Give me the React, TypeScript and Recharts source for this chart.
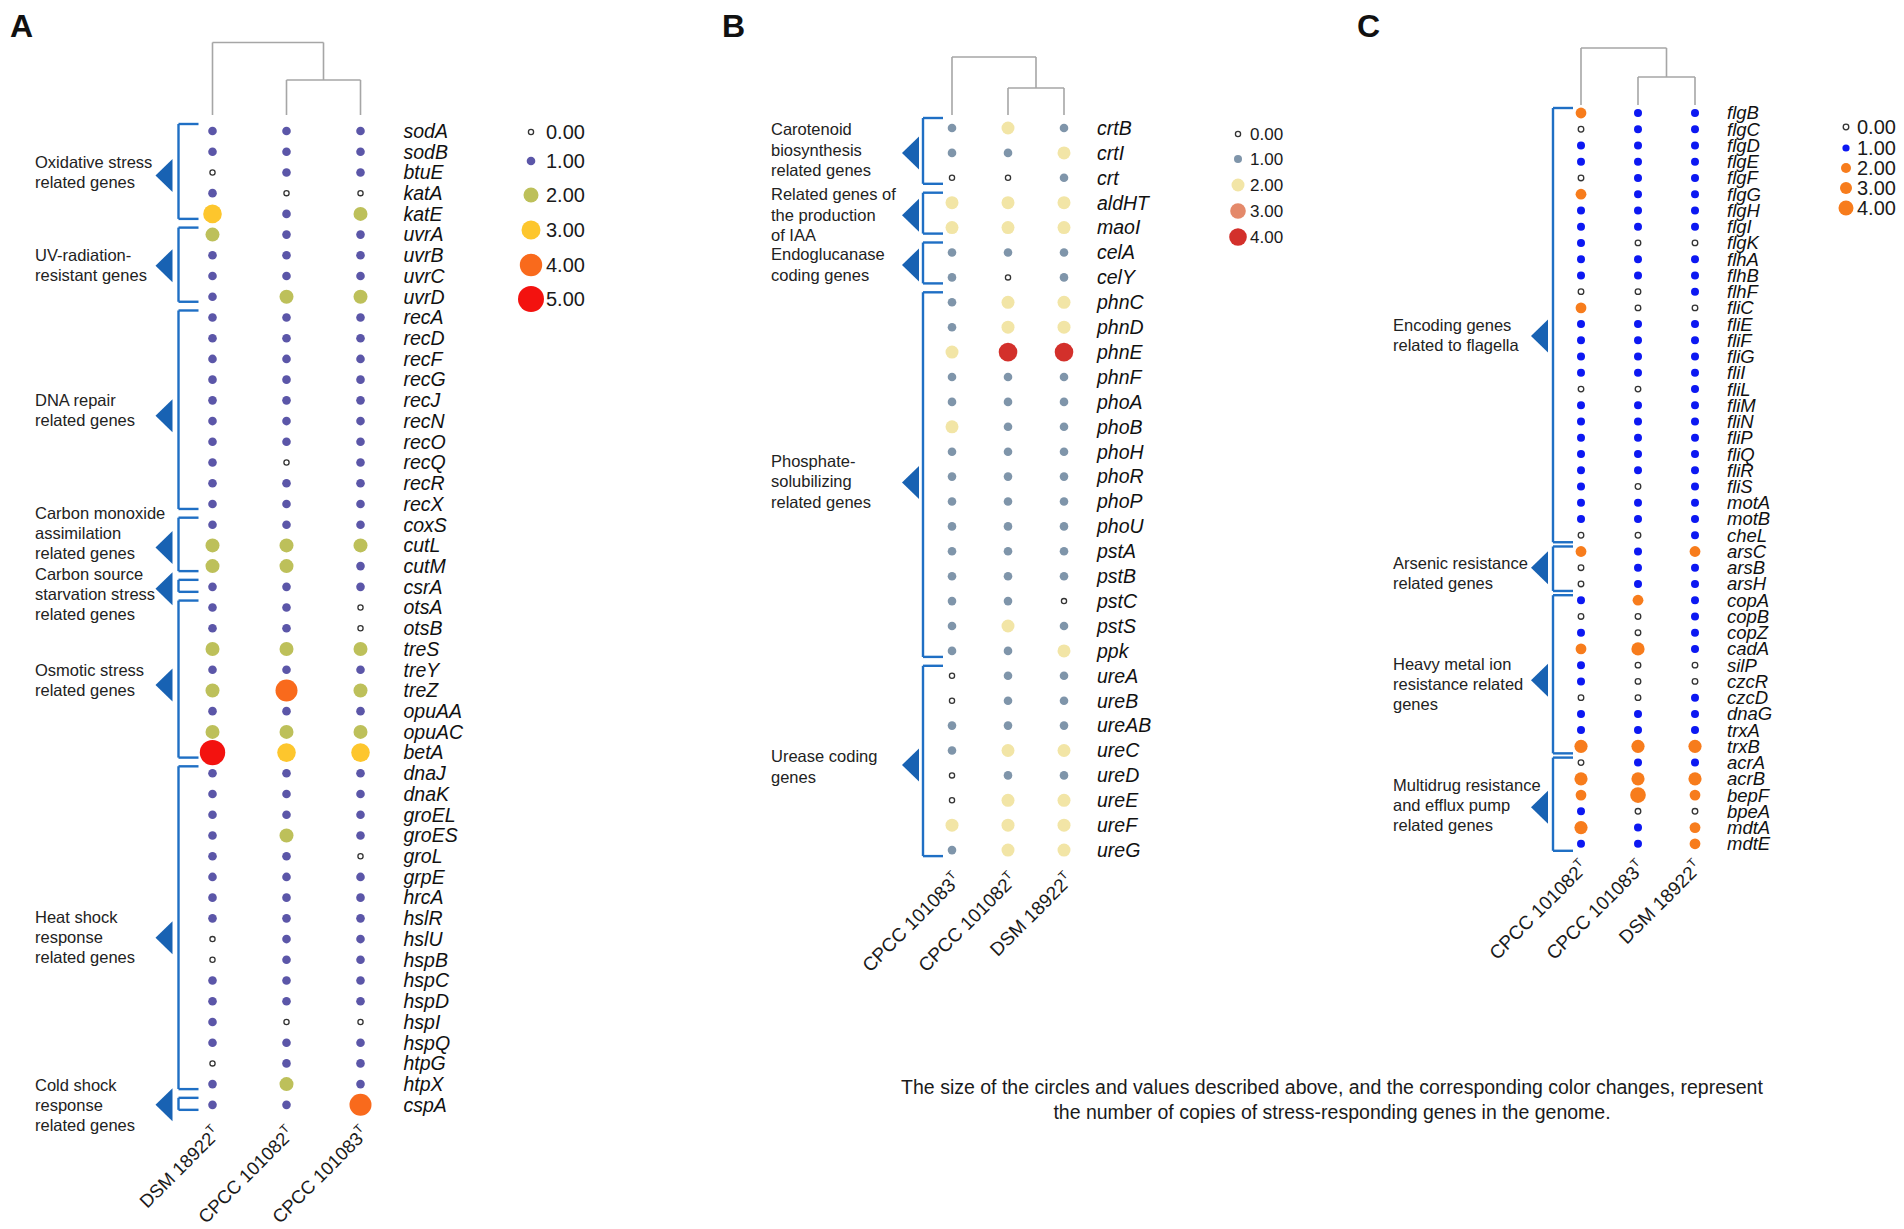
import React from 'react';
import { ScatterChart, Scatter, XAxis, YAxis, ReferenceLine, ReferenceDot, Legend } from 'recharts';

if (typeof document !== 'undefined') {
  document.body.style.margin = '0';
}

const FONT = '"Liberation Sans", Arial, Helvetica, sans-serif';
const FIG_W = 1904;
const FIG_H = 1229;

// ---------- panel A ----------
const genesA = [
  'sodA', 'sodB', 'btuE', 'katA', 'katE', 'uvrA', 'uvrB', 'uvrC', 'uvrD', 'recA', 'recD', 'recF',
  'recG', 'recJ', 'recN', 'recO', 'recQ', 'recR', 'recX', 'coxS', 'cutL', 'cutM', 'csrA', 'otsA',
  'otsB', 'treS', 'treY', 'treZ', 'opuAA', 'opuAC', 'betA', 'dnaJ', 'dnaK', 'groEL', 'groES', 'groL',
  'grpE', 'hrcA', 'hslR', 'hslU', 'hspB', 'hspC', 'hspD', 'hspI', 'hspQ', 'htpG', 'htpX', 'cspA',
];
const strainsA = ['DSM 18922', 'CPCC 101082', 'CPCC 101083'];
const dsmA = [1, 1, 0, 1, 3, 2, 1, 1, 1, 1, 1, 1, 1, 1, 1, 1, 1, 1, 1, 1, 2, 2, 1, 1, 1, 2, 1, 2, 1, 2, 5, 1, 1, 1, 1, 1, 1, 1, 1, 0, 0, 1, 1, 1, 1, 0, 1, 1];
const cpcc82A = [1, 1, 1, 0, 1, 1, 1, 1, 2, 1, 1, 1, 1, 1, 1, 1, 0, 1, 1, 1, 2, 2, 1, 1, 1, 2, 1, 4, 1, 2, 3, 1, 1, 1, 2, 1, 1, 1, 1, 1, 1, 1, 1, 0, 1, 1, 2, 1];
const cpcc83A = [1, 1, 1, 0, 2, 1, 1, 1, 2, 1, 1, 1, 1, 1, 1, 1, 1, 1, 1, 1, 2, 1, 1, 0, 0, 2, 1, 2, 1, 2, 3, 1, 1, 1, 1, 0, 1, 1, 1, 1, 1, 1, 1, 0, 1, 1, 1, 4];
const groupsA = [
  { label: ['Oxidative stress', 'related genes'], from: 'sodA', to: 'katE' },
  { label: ['UV-radiation-', 'resistant genes'], from: 'uvrA', to: 'uvrD' },
  { label: ['DNA repair', 'related genes'], from: 'recA', to: 'recX' },
  { label: ['Carbon monoxide', 'assimilation', 'related genes'], from: 'coxS', to: 'cutM' },
  { label: ['Carbon source', 'starvation stress', 'related genes'], from: 'csrA', to: 'csrA' },
  { label: ['Osmotic stress', 'related genes'], from: 'otsA', to: 'betA' },
  { label: ['Heat shock', 'response', 'related genes'], from: 'dnaJ', to: 'htpX' },
  { label: ['Cold shock', 'response', 'related genes'], from: 'cspA', to: 'cspA' },
];
const legendA = [0, 1, 2, 3, 4, 5];

// ---------- panel B ----------
const genesB = [
  'crtB', 'crtI', 'crt', 'aldHT', 'maoI', 'celA', 'celY', 'phnC', 'phnD', 'phnE', 'phnF', 'phoA',
  'phoB', 'phoH', 'phoR', 'phoP', 'phoU', 'pstA', 'pstB', 'pstC', 'pstS', 'ppk', 'ureA', 'ureB',
  'ureAB', 'ureC', 'ureD', 'ureE', 'ureF', 'ureG',
];
const strainsB = ['CPCC 101083', 'CPCC 101082', 'DSM 18922'];
const cpcc83B = [1, 1, 0, 2, 2, 1, 1, 1, 1, 2, 1, 1, 2, 1, 1, 1, 1, 1, 1, 1, 1, 1, 0, 0, 1, 1, 0, 0, 2, 1];
const cpcc82B = [2, 1, 0, 2, 2, 1, 0, 2, 2, 4, 1, 1, 1, 1, 1, 1, 1, 1, 1, 1, 2, 1, 1, 1, 1, 2, 1, 2, 2, 2];
const dsmB = [1, 2, 1, 2, 2, 1, 1, 2, 2, 4, 1, 1, 1, 1, 1, 1, 1, 1, 1, 0, 1, 2, 1, 1, 1, 2, 1, 2, 2, 2];
const groupsB = [
  { label: ['Carotenoid', 'biosynthesis', 'related genes'], from: 'crtB', to: 'crt' },
  { label: ['Related genes of', 'the production', 'of IAA'], from: 'aldHT', to: 'maoI' },
  { label: ['Endoglucanase', 'coding genes'], from: 'celA', to: 'celY' },
  { label: ['Phosphate-', 'solubilizing', 'related genes'], from: 'phnC', to: 'ppk' },
  { label: ['Urease coding', 'genes'], from: 'ureA', to: 'ureG' },
];
const legendB = [0, 1, 2, 3, 4];

// ---------- panel C ----------
const genesC = [
  'flgB', 'flgC', 'flgD', 'flgE', 'flgF', 'flgG', 'flgH', 'flgI', 'flgK', 'flhA', 'flhB', 'flhF',
  'fliC', 'fliE', 'fliF', 'fliG', 'fliI', 'fliL', 'fliM', 'fliN', 'fliP', 'fliQ', 'fliR', 'fliS',
  'motA', 'motB', 'cheL', 'arsC', 'arsB', 'arsH', 'copA', 'copB', 'copZ', 'cadA', 'silP', 'czcR',
  'czcD', 'dnaG', 'trxA', 'trxB', 'acrA', 'acrB', 'bepF', 'bpeA', 'mdtA', 'mdtE',
];
const strainsC = ['CPCC 101082', 'CPCC 101083', 'DSM 18922'];
const cpcc82C = [2, 0, 1, 1, 0, 2, 1, 1, 1, 1, 1, 0, 2, 1, 1, 1, 1, 0, 1, 1, 1, 1, 1, 1, 1, 1, 0, 2, 0, 0, 1, 0, 1, 2, 1, 1, 0, 1, 1, 3, 0, 3, 2, 1, 3, 1];
const cpcc83C = [1, 1, 1, 1, 1, 1, 1, 1, 0, 1, 1, 0, 0, 1, 1, 1, 1, 0, 1, 1, 1, 1, 1, 0, 1, 1, 0, 1, 1, 1, 2, 0, 0, 3, 0, 0, 0, 1, 1, 3, 1, 3, 4, 0, 1, 1];
const dsmC = [1, 1, 1, 1, 1, 1, 1, 1, 0, 1, 1, 1, 0, 1, 1, 1, 1, 1, 1, 1, 1, 1, 1, 1, 1, 1, 1, 2, 1, 1, 1, 1, 1, 1, 0, 0, 1, 1, 1, 3, 1, 3, 2, 0, 2, 2];
const groupsC = [
  { label: ['Encoding genes', 'related to flagella'], from: 'flgB', to: 'cheL' },
  { label: ['Arsenic resistance', 'related genes'], from: 'arsC', to: 'arsH' },
  { label: ['Heavy metal ion', 'resistance related', 'genes'], from: 'copA', to: 'trxB' },
  { label: ['Multidrug resistance', 'and efflux pump', 'related genes'], from: 'acrA', to: 'mdtE' },
];
const legendC = [0, 1, 2, 3, 4];

// ---------- styles & layout ----------
const styleA = {
  palette: ['#ffffff', '#5b56a8', '#bdc05a', '#fdc62d', '#f96a1c', '#f3120f'],
  radius: [2.6, 4.3, 7, 9.3, 11, 12.7],
  legendRadius: [2.6, 4.3, 7.5, 9.5, 11.2, 13],
};
const styleB = {
  palette: ['#ffffff', '#7f95aa', '#f2e5a6', '#e4896a', '#d3302b'],
  radius: [2.6, 4.3, 6.5, 7.8, 9.3],
  legendRadius: [2.6, 4, 6.5, 7.8, 8.8],
};
const styleC = {
  palette: ['#ffffff', '#0c18f2', '#f77c1c', '#f77c1c', '#f77c1c'],
  radius: [2.8, 4, 5.4, 6.6, 7.8],
  legendRadius: [2.8, 3.6, 5, 6, 7.5],
};

const layoutA = {
  left: 0, width: 640, col0: 212.5, colStep: 74, row0: 131, rowStep: 20.72,
  geneGap: 43, geneFont: 19.5, bracketX: 178.5, tickLen: 20, topPad: 7, botPad: 5,
  triBase: 172.5, labelX: 35, lineH: 20, dendro: [42.5, 80, 115],
  strainEnd: [9, 30], strainFont: 18.5,
  labelDy: [0, 0, 0, -12, 7, 0, 9, 0], triDy: [3, 0, 5, 2, 2, 5, 9, 0],
  legendBox: [500, 110, 120, 210], legendDotX: 531, legendTextX: 546,
  legendYs: [132, 161, 195, 230, 265, 299], legendFont: 20,
};
const layoutB = {
  left: 640, width: 640, col0: 952, colStep: 56, row0: 128, rowStep: 24.9,
  geneGap: 33, geneFont: 19.5, bracketX: 923, tickLen: 20, topPad: 10, botPad: 6,
  triBase: 919, labelX: 771, lineH: 20.5, dendro: [57, 88, 115],
  strainEnd: [10, 31], strainFont: 19,
  labelDy: [-3, 0, 0, 5, 4], triDy: [0, 0, 0, 6, 2],
  legendBox: [1215, 115, 70, 140], legendDotX: 1238, legendTextX: 1250,
  legendYs: [134, 159, 185, 211, 237], legendFont: 17,
};
const layoutC = {
  left: 1280, width: 624, col0: 1581, colStep: 57, row0: 113, rowStep: 16.24,
  geneGap: 32, geneFont: 18.5, bracketX: 1553, tickLen: 20, topPad: 5, botPad: 7,
  triBase: 1548, labelX: 1393, lineH: 20, dendro: [48, 77, 105],
  strainEnd: [8, 25], strainFont: 19,
  labelDy: [11, 6, 11, 2], triDy: [12, 0, 7, 4],
  legendBox: [1830, 110, 74, 115], legendDotX: 1846, legendTextX: 1857,
  legendYs: [127, 148, 168, 188, 208], legendFont: 20,
};

const BRACKET = '#1f6fc4';
const TRIANGLE = '#1862b3';
const TREE = '#a6a6a6';
const YW = 60;
const XH = 100;

type Group = { label: string[]; from: string; to: string };

interface PanelProps {
  genes: string[];
  strains: string[];
  series: number[][];
  groups: Group[];
  legendValues: number[];
  look: { palette: string[]; radius: number[]; legendRadius: number[] };
  lay: typeof layoutA;
}

const Panel = ({ genes, strains, series, groups, legendValues, look, lay }: PanelProps) => {
  const n = genes.length;
  const m = strains.length;
  const plotRight = lay.col0 + lay.colStep * (m - 1);
  const plotBottom = lay.row0 + lay.rowStep * (n - 1);
  const margin = {
    top: lay.row0,
    left: lay.col0 - lay.left,
    right: lay.left + lay.width - plotRight - YW,
    bottom: FIG_H - plotBottom - XH,
  };
  const px2col = (px: number) => (px - lay.col0) / lay.colStep;
  const py2row = (py: number) => (py - lay.row0) / lay.rowStep;

  const renderDot = (props: any) => {
    const { cx, cy, payload } = props;
    const v = payload.v;
    if (v === 0) {
      return <circle cx={cx} cy={cy} r={look.radius[0]} fill="#fff" stroke="#333" strokeWidth={1.3} />;
    }
    return <circle cx={cx} cy={cy} r={look.radius[v]} fill={look.palette[v]} />;
  };

  const segs: { key: string; pts: [number, number, number, number]; color: string; w: number }[] = [];
  // dendrogram: first strain joins the pair of the other two
  const yTop = py2row(lay.dendro[0]);
  const yMid = py2row(lay.dendro[1]);
  const yEnd = py2row(lay.dendro[2]);
  const pairC = (1 + 2) / 2;
  segs.push({ key: 't1', pts: [0, yTop, pairC, yTop], color: TREE, w: 1.6 });
  segs.push({ key: 't2', pts: [0, yTop, 0, yEnd], color: TREE, w: 1.6 });
  segs.push({ key: 't3', pts: [pairC, yTop, pairC, yMid], color: TREE, w: 1.6 });
  segs.push({ key: 't4', pts: [1, yMid, 2, yMid], color: TREE, w: 1.6 });
  segs.push({ key: 't5', pts: [1, yMid, 1, yEnd], color: TREE, w: 1.6 });
  segs.push({ key: 't6', pts: [2, yMid, 2, yEnd], color: TREE, w: 1.6 });

  const bx = px2col(lay.bracketX);
  const tx = px2col(lay.bracketX + lay.tickLen);
  const groupRows = groups.map((g) => [genes.indexOf(g.from), genes.indexOf(g.to)]);
  groupRows.forEach(([r0, r1], i) => {
    const a = r0 - lay.topPad / lay.rowStep;
    const b = r1 + lay.botPad / lay.rowStep;
    segs.push({ key: `b${i}v`, pts: [bx, a, bx, b], color: BRACKET, w: 2.4 });
    segs.push({ key: `b${i}t`, pts: [bx, a, tx, a], color: BRACKET, w: 2.4 });
    segs.push({ key: `b${i}b`, pts: [bx, b, tx, b], color: BRACKET, w: 2.4 });
  });

  const legendContent = () => {
    const [bl, bt, bw, bh] = lay.legendBox;
    return (
      <svg width={bw} height={bh} style={{ overflow: 'visible', display: 'block' }}>
        {legendValues.map((v, i) => {
          const cy = lay.legendYs[i] - bt;
          const cx = lay.legendDotX - bl;
          return (
            <g key={v}>
              {v === 0 ? (
                <circle cx={cx} cy={cy} r={look.legendRadius[0]} fill="#fff" stroke="#333" strokeWidth={1.3} />
              ) : (
                <circle cx={cx} cy={cy} r={look.legendRadius[v]} fill={look.palette[v]} />
              )}
              <text x={lay.legendTextX - bl} y={cy} dy="0.36em" fontSize={lay.legendFont} fill="#1a1a1a" fontFamily={FONT}>
                {v.toFixed(2)}
              </text>
            </g>
          );
        })}
      </svg>
    );
  };

  return (
    <div style={{ position: 'absolute', left: lay.left, top: 0 }}>
      <ScatterChart width={lay.width} height={FIG_H} margin={margin}>
        <XAxis
          type="number"
          dataKey="col"
          domain={[0, m - 1]}
          ticks={strains.map((_, i) => i)}
          interval={0}
          axisLine={false}
          tickLine={false}
          tickSize={0}
          tickMargin={0}
          height={XH}
          tick={(p: any) => {
            const x = p.x + lay.strainEnd[0];
            const y = p.y + lay.strainEnd[1];
            return (
              <text x={x} y={y} textAnchor="end" transform={`rotate(-45 ${x} ${y})`} fontSize={lay.strainFont} fill="#1a1a1a" fontFamily={FONT}>
                {strains[p.payload.value]}
                <tspan dy={-8} fontSize={12}>T</tspan>
              </text>
            );
          }}
        />
        <YAxis
          type="number"
          dataKey="row"
          orientation="right"
          reversed
          domain={[0, n - 1]}
          ticks={genes.map((_, i) => i)}
          interval={0}
          width={YW}
          axisLine={false}
          tickLine={false}
          tickSize={0}
          tickMargin={0}
          tick={(p: any) => (
            <text x={p.x + lay.geneGap} y={p.y} dy="0.35em" fontStyle="italic" fontSize={lay.geneFont} fill="#111" fontFamily={FONT}>
              {genes[p.payload.value]}
            </text>
          )}
        />
        {segs.map((s) => (
          <ReferenceLine
            key={s.key}
            segment={[{ x: s.pts[0], y: s.pts[1] }, { x: s.pts[2], y: s.pts[3] }]}
            stroke={s.color}
            strokeWidth={s.w}
            ifOverflow="visible"
          />
        ))}
        {groupRows.map(([r0, r1], i) => (
          <ReferenceDot
            key={`tri${i}`}
            x={px2col(lay.triBase)}
            y={(r0 + r1) / 2 + lay.triDy[i] / lay.rowStep}
            ifOverflow="visible"
            shape={(p: any) => (
              <polygon points={`${p.cx},${p.cy - 16.5} ${p.cx},${p.cy + 16.5} ${p.cx - 17},${p.cy}`} fill={TRIANGLE} />
            )}
          />
        ))}
        {groupRows.map(([r0, r1], i) => (
          <ReferenceDot
            key={`lab${i}`}
            x={px2col(lay.labelX)}
            y={(r0 + r1) / 2 + lay.labelDy[i] / lay.rowStep}
            ifOverflow="visible"
            shape={(p: any) => {
              const lines = groups[i].label;
              return (
                <text fontSize={16.5} fill="#222" fontFamily={FONT}>
                  {lines.map((ln, k) => (
                    <tspan key={k} x={p.cx} y={p.cy + (k - (lines.length - 1) / 2) * lay.lineH} dy="0.35em">
                      {ln}
                    </tspan>
                  ))}
                </text>
              );
            }}
          />
        ))}
        {series.map((vals, c) => (
          <Scatter
            key={strains[c]}
            name={strains[c]}
            data={vals.map((v, r) => ({ col: c, row: r, v }))}
            shape={renderDot}
            isAnimationActive={false}
          />
        ))}
        <Legend
          layout="vertical"
          align="center"
          verticalAlign="middle"
          wrapperStyle={{
            left: lay.legendBox[0] - lay.left,
            top: lay.legendBox[1],
            width: lay.legendBox[2],
            height: lay.legendBox[3],
          }}
          content={legendContent}
        />
      </ScatterChart>
    </div>
  );
};

const App = () => {
  return (
    <div style={{ position: 'relative', width: FIG_W, height: FIG_H, background: '#fff', overflow: 'hidden', fontFamily: FONT }}>
      <Panel genes={genesA} strains={strainsA} series={[dsmA, cpcc82A, cpcc83A]} groups={groupsA} legendValues={legendA} look={styleA} lay={layoutA} />
      <Panel genes={genesB} strains={strainsB} series={[cpcc83B, cpcc82B, dsmB]} groups={groupsB} legendValues={legendB} look={styleB} lay={layoutB} />
      <Panel genes={genesC} strains={strainsC} series={[cpcc82C, cpcc83C, dsmC]} groups={groupsC} legendValues={legendC} look={styleC} lay={layoutC} />
      <svg width={FIG_W} height={FIG_H} style={{ position: 'absolute', left: 0, top: 0, pointerEvents: 'none' }}>
        <text x={10} y={37} fontSize={32} fontWeight="bold" fontFamily={FONT} fill="#111">A</text>
        <text x={722} y={37} fontSize={32} fontWeight="bold" fontFamily={FONT} fill="#111">B</text>
        <text x={1357} y={37} fontSize={32} fontWeight="bold" fontFamily={FONT} fill="#111">C</text>
        <text x={1332} y={1094} textAnchor="middle" fontSize={19.5} fontFamily={FONT} fill="#1a1a1a">
          The size of the circles and values described above, and the corresponding color changes, represent
        </text>
        <text x={1332} y={1119} textAnchor="middle" fontSize={19.5} fontFamily={FONT} fill="#1a1a1a">
          the number of copies of stress-responding genes in the genome.
        </text>
      </svg>
    </div>
  );
};

export default App;
